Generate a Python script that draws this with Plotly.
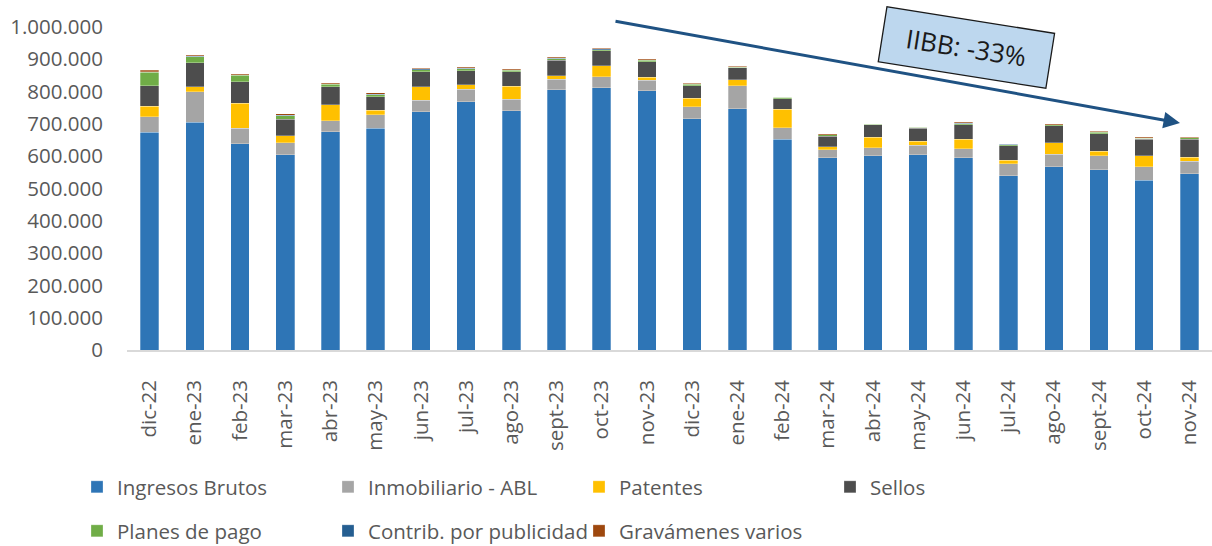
import plotly.graph_objects as go

months = ["dic-22", "ene-23", "feb-23", "mar-23", "abr-23", "may-23", "jun-23", "jul-23",
          "ago-23", "sept-23", "oct-23", "nov-23", "dic-23", "ene-24", "feb-24", "mar-24",
          "abr-24", "may-24", "jun-24", "jul-24", "ago-24", "sept-24", "oct-24", "nov-24"]

ingresos_brutos = [674000, 705000, 639000, 605000, 676000, 686000, 738000, 769000,
                   741000, 806000, 812000, 803000, 716000, 747000, 653000, 595000,
                   601000, 605000, 595000, 540000, 568000, 558000, 526000, 546000]
inmobiliario_abl = [48000, 95000, 47000, 37000, 34000, 42000, 36000, 38000,
                    35000, 32000, 34000, 32000, 37000, 71000, 35000, 25000,
                    25000, 29000, 28000, 36000, 38000, 44000, 42000, 39000]
patentes = [33000, 15000, 78000, 21000, 49000, 15000, 41000, 14000,
            41000, 11000, 34000, 10000, 27000, 18000, 57000, 9000,
            32000, 12000, 30000, 12000, 35000, 13000, 34000, 12000]
sellos = [63000, 74000, 67000, 51000, 56000, 41000, 47000, 44000,
          45000, 48000, 47000, 48000, 38000, 38000, 33000, 33000,
          40000, 40000, 44000, 45000, 53000, 55000, 50000, 56000]
planes_pago = [42000, 19000, 19000, 11000, 7000, 6000, 6000, 5000,
               4000, 5000, 3000, 4000, 4000, 2000, 4000, 4000,
               1000, 3000, 4000, 3000, 3000, 4000, 3000, 4000]
contrib_publicidad = [2000, 1000, 2000, 2000, 2000, 2000, 2000, 2000,
                      1000, 2000, 2000, 2000, 2000, 1000, 1000, 1000,
                      1000, 1000, 1000, 1000, 1000, 1000, 1000, 500]
gravamenes_varios = [4000, 3000, 3000, 4000, 3000, 4000, 3000, 3000,
                     3000, 3000, 3000, 2000, 2000, 2000, 1000, 2000,
                     1000, 1000, 3000, 1000, 2000, 3000, 3000, 500]

y_ticks = [0, 100000, 200000, 300000, 400000, 500000, 600000, 700000, 800000, 900000, 1000000]
y_tick_labels = ["0", "100.000", "200.000", "300.000", "400.000", "500.000", "600.000",
                 "700.000", "800.000", "900.000", "1.000.000"]

series = [
    ("Ingresos Brutos", ingresos_brutos, "#2E75B6", "legend"),
    ("Inmobiliario - ABL", inmobiliario_abl, "#A5A5A5", "legend"),
    ("Patentes", patentes, "#FFC000", "legend"),
    ("Sellos", sellos, "#4D4D4D", "legend"),
    ("Planes de pago", planes_pago, "#70AD47", "legend2"),
    ("Contrib. por publicidad", contrib_publicidad, "#255E91", "legend2"),
    ("Gravámenes varios", gravamenes_varios, "#9E480E", "legend2"),
]

FONT = "Open Sans"
TXT = "#595959"

fig = go.Figure()
for name, vals, color, lg in series:
    fig.add_trace(go.Bar(
        x=months, y=vals, name=name, legend=lg,
        marker=dict(color=color, line=dict(color="rgba(255,255,255,0.35)", width=0.8)),
    ))

legend_common = dict(
    orientation="h", xanchor="left", yanchor="middle",
    font=dict(family=FONT, size=20.5, color=TXT),
    entrywidth=206, entrywidthmode="pixels",
    bgcolor="rgba(0,0,0,0)", itemwidth=30, traceorder="normal",
)

fig.update_layout(
    width=1212, height=546,
    margin=dict(l=127, r=0, t=27, b=196, autoexpand=False),
    paper_bgcolor="white", plot_bgcolor="white",
    barmode="stack", bargap=0.59,
    font=dict(family=FONT, color=TXT),
    legend=dict(x=(77 - 127) / 1085, y=(350 - 487) / 323, **legend_common),
    legend2=dict(x=(77 - 127) / 1085, y=(350 - 531) / 323, **legend_common),
    xaxis=dict(
        tickangle=-90, tickfont=dict(family=FONT, size=20.5, color=TXT),
        showline=True, linecolor="#D9D9D9", linewidth=1.5,
        ticks="", showgrid=False, ticklabelstandoff=20, automargin=False,
    ),
    yaxis=dict(
        range=[0, 1000000], tickvals=y_ticks, ticktext=y_tick_labels,
        tickfont=dict(family=FONT, size=20.5, color=TXT),
        showgrid=False, zeroline=False, showline=False, ticks="",
        ticklabelstandoff=23, automargin=False,
    ),
)

# trend arrow
fig.add_annotation(
    xref="paper", yref="paper",
    x=(1180 - 127) / 1085, y=(350 - 123) / 323,
    ax=614 - 1180, ay=21 - 123, axref="pixel", ayref="pixel",
    showarrow=True, arrowhead=2, arrowsize=1.1, arrowwidth=3,
    arrowcolor="#1F5283", standoff=0, text="",
)

# label box
fig.add_annotation(
    xref="paper", yref="paper",
    x=(966 - 127) / 1085, y=(350 - 47) / 323,
    xanchor="center", yanchor="middle",
    text="IIBB: -33%", showarrow=False, textangle=9,
    font=dict(family=FONT, size=26, color="#1a1a1a"),
    bgcolor="#BDD7EE", bordercolor="#1a1a1a", borderwidth=1.3,
    borderpad=6, width=156, height=42,
)

fig.write_html("out.html", config={"displayModeBar": False},
               post_script="document.body.style.margin='0';")
